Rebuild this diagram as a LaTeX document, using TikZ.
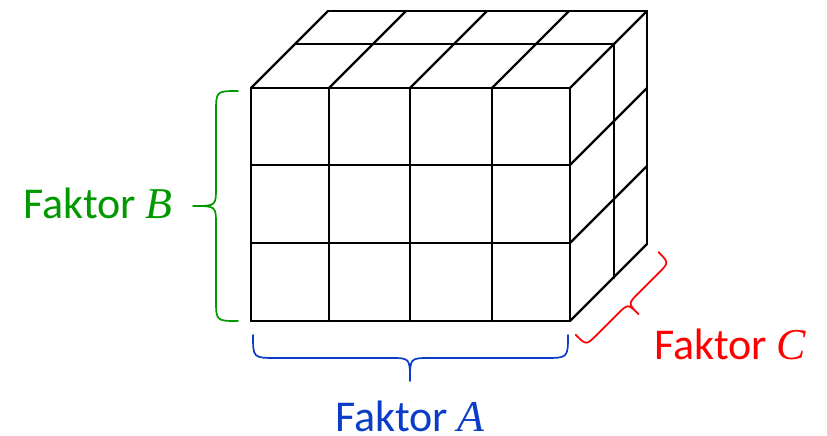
\documentclass[tikz,border=0pt]{standalone}
\usepackage{fontspec}
\setmainfont{Carlito}
\newfontfamily\serifital{Liberation Serif}
\definecolor{fgreen}{RGB}{0,154,0}
\definecolor{fblue}{RGB}{10,60,200}
\definecolor{fred}{RGB}{255,0,0}
\begin{document}
\begin{tikzpicture}[x=1pt,y=-1pt,line join=round,line cap=round,
  cube/.style={draw=black,line width=2.2pt},
  bracegreen/.style={draw=fgreen,line width=1.7pt},
  braceblue/.style={draw=fblue,line width=1.7pt},
  bracered/.style={draw=fred,line width=1.7pt},
  label/.style={anchor=base west,inner sep=0pt,font=\fontsize{44}{50}\selectfont}]
\useasboundingbox (0,0) rectangle (827,436);
% front face grid
\foreach \x in {251,329,410,492,570} \draw[cube] (\x,88) -- (\x,321);
\foreach \y in {88,165,243,321} \draw[cube] (251,\y) -- (570,\y);
% top face
\foreach \x in {251,329,410,492,570} \draw[cube] (\x,88) -- ++(77,-77);
\draw[cube] (295,44) -- (614,44);
\draw[cube] (328,11) -- (647,11);
% right face
\foreach \y in {165,243,321} \draw[cube] (570,\y) -- ++(77,-77);
\draw[cube] (614,44) -- (614,278);
\draw[cube] (647,11) -- (647,244);
% green brace (Faktor B)
\draw[bracegreen] (238,91) .. controls (216,91) .. (216,113) -- (216,187)
  .. controls (216,206) .. (193,206) .. controls (216,206) .. (216,225)
  -- (216,299) .. controls (216,321) .. (238,321);
% blue brace (Faktor A)
\draw[braceblue] (253,335) .. controls (253,358) .. (277,358) -- (390,358)
  .. controls (410,358) .. (410,381) .. controls (410,358) .. (430,358)
  -- (544,358) .. controls (568,358) .. (568,335);
% red brace (Faktor C)
\begin{scope}[shift={(570,322)},x={(0.7071pt,0.7071pt)},y={(0.7071pt,-0.7071pt)}]
\draw[bracered] (-5,13) .. controls (-5,28) .. (10,28) -- (39,28)
  .. controls (54,28) .. (54,43) .. controls (54,28) .. (69,28)
  -- (97,28) .. controls (112,28) .. (112,13);
\end{scope}
% labels
\node[label,text=fgreen] (fb) at (23,218) {Faktor {\serifital\itshape B}};
\node[label,text=fblue] (fa) at (335,431) {Faktor {\serifital\itshape A}};
\node[label,text=fred] (fc) at (654,359) {Faktor {\serifital\itshape C}};
\end{tikzpicture}
\end{document}
